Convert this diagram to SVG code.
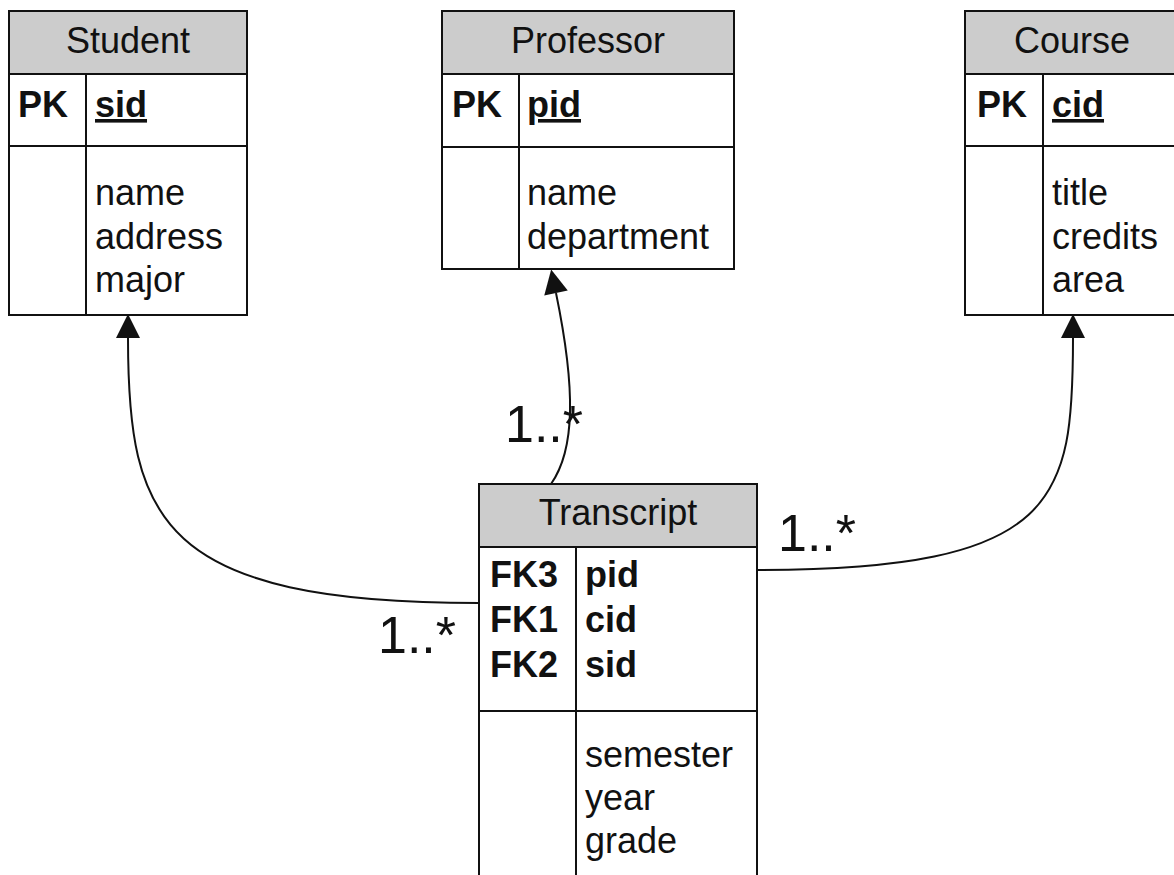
<svg xmlns="http://www.w3.org/2000/svg" width="1174" height="875" viewBox="0 0 1174 875">
  <style>
    .box { fill: #ffffff; stroke: #111111; stroke-width: 2; }
    .head { fill: #cccccc; stroke: #111111; stroke-width: 2; }
    .sep { stroke: #111111; stroke-width: 2; fill: none; }
    text { font-family: "Liberation Sans", Arial, sans-serif; fill: #111111; }
    .title { font-size: 36px; text-anchor: middle; }
    .key { font-size: 36px; font-weight: bold; }
    .pk { font-size: 36px; font-weight: bold; text-decoration: underline; }
    .attr { font-size: 36px; }
    .mult { font-size: 52px; }
    .edge { fill: none; stroke: #111111; stroke-width: 2; marker-end: url(#arrow); }
  </style>
  <defs>
    <marker id="arrow" markerUnits="userSpaceOnUse" markerWidth="24" markerHeight="24" viewBox="0 0 22 22" refX="0" refY="11" orient="auto" overflow="visible">
      <path d="M0,0 L22,11 L0,22 Z" fill="#111111"/>
    </marker>
  </defs>
  <rect width="1174" height="875" fill="#ffffff"/>

  <!-- relationships from Transcript to the three tables -->
  <g id="connectors">
    <path class="edge" d="M479,603 C160,603 128,520 128,338"/>
    <path class="edge" d="M551,484 C575,450 576,390 556,293"/>
    <path class="edge" d="M757,570 C1060,570 1073,500 1073,338"/>
    <text class="mult" x="378" y="653">1..*</text>
    <text class="mult" x="505" y="442">1..*</text>
    <text class="mult" x="778" y="551">1..*</text>
  </g>

  <g id="student">
    <rect class="box" x="9" y="11" width="238" height="304"/>
    <rect class="head" x="9" y="11" width="238" height="63"/>
    <line class="sep" x1="9" y1="146" x2="247" y2="146"/>
    <line class="sep" x1="86" y1="74" x2="86" y2="315"/>
    <text class="title" x="128" y="53">Student</text>
    <text class="key" x="18" y="117">PK</text>
    <text class="pk" x="95" y="117">sid</text>
    <text class="attr" x="95" y="205">name</text>
    <text class="attr" x="95" y="248.5">address</text>
    <text class="attr" x="95" y="292">major</text>
  </g>

  <g id="professor">
    <rect class="box" x="442" y="11" width="292" height="258"/>
    <rect class="head" x="442" y="11" width="292" height="63"/>
    <line class="sep" x1="442" y1="147" x2="734" y2="147"/>
    <line class="sep" x1="519" y1="74" x2="519" y2="269"/>
    <text class="title" x="588" y="53">Professor</text>
    <text class="key" x="452" y="117">PK</text>
    <text class="pk" x="527" y="117">pid</text>
    <text class="attr" x="527" y="205">name</text>
    <text class="attr" x="527" y="248.5">department</text>
  </g>

  <g id="course">
    <rect class="box" x="965" y="11" width="214" height="304"/>
    <rect class="head" x="965" y="11" width="214" height="63"/>
    <line class="sep" x1="965" y1="146" x2="1179" y2="146"/>
    <line class="sep" x1="1043" y1="74" x2="1043" y2="315"/>
    <text class="title" x="1072" y="53">Course</text>
    <text class="key" x="977" y="117">PK</text>
    <text class="pk" x="1052" y="117">cid</text>
    <text class="attr" x="1052" y="205">title</text>
    <text class="attr" x="1052" y="248.5">credits</text>
    <text class="attr" x="1052" y="292">area</text>
  </g>

  <g id="transcript">
    <rect class="box" x="479" y="484" width="278" height="400"/>
    <rect class="head" x="479" y="484" width="278" height="63"/>
    <line class="sep" x1="479" y1="711" x2="757" y2="711"/>
    <line class="sep" x1="576" y1="547" x2="576" y2="884"/>
    <text class="title" x="618" y="525">Transcript</text>
    <text class="key" x="490" y="587">FK3</text>
    <text class="key" x="490" y="632">FK1</text>
    <text class="key" x="490" y="677">FK2</text>
    <text class="key" x="585" y="587">pid</text>
    <text class="key" x="585" y="632">cid</text>
    <text class="key" x="585" y="677">sid</text>
    <text class="attr" x="585" y="767">semester</text>
    <text class="attr" x="585" y="810">year</text>
    <text class="attr" x="585" y="853">grade</text>
  </g>
</svg>
